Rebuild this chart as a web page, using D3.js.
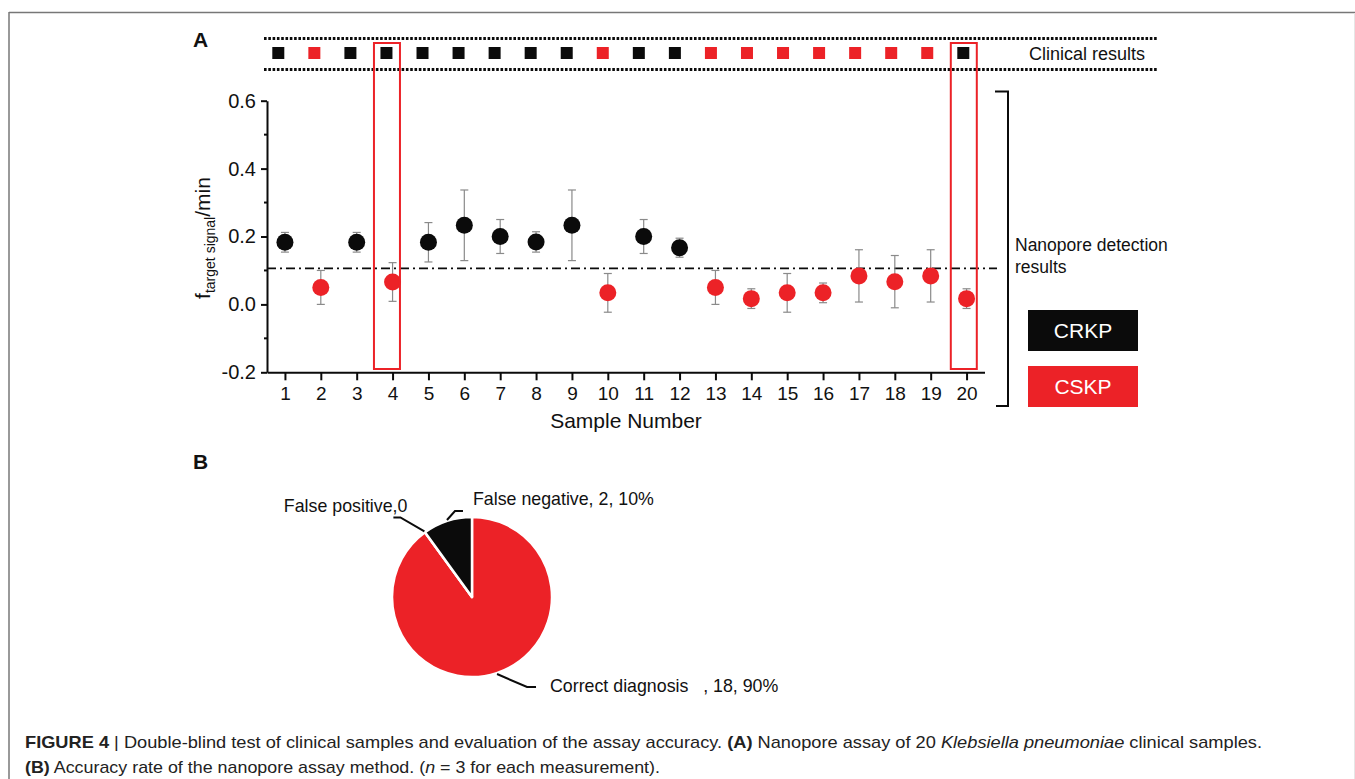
<!DOCTYPE html>
<html><head><meta charset="utf-8">
<script src="https://cdn.jsdelivr.net/npm/d3@7"></script>
<style>
body{margin:0;background:#fff}
svg{display:block}
text{font-family:"Liberation Sans",Arial,Helvetica,sans-serif;fill:#111}
</style>
</head><body>
<svg id="c" width="1355" height="779"></svg>
<script>
// ---------------- DATA ----------------
const samples = [1,2,3,4,5,6,7,8,9,10,11,12,13,14,15,16,17,18,19,20];
const meanValues = [0.183,0.050,0.183,0.066,0.183,0.233,0.200,0.184,0.233,0.034,0.200,0.167,0.050,0.017,0.034,0.034,0.084,0.067,0.084,0.017];
const errValues  = [0.029,0.050,0.029,0.057,0.058,0.104,0.050,0.030,0.104,0.057,0.050,0.028,0.050,0.029,0.057,0.029,0.077,0.077,0.077,0.029];
const detected = ["CRKP","CSKP","CRKP","CSKP","CRKP","CRKP","CRKP","CRKP","CRKP","CSKP","CRKP","CRKP","CSKP","CSKP","CSKP","CSKP","CSKP","CSKP","CSKP","CSKP"];
const clinical = ["CRKP","CSKP","CRKP","CRKP","CRKP","CRKP","CRKP","CRKP","CRKP","CSKP","CRKP","CRKP","CSKP","CSKP","CSKP","CSKP","CSKP","CSKP","CSKP","CRKP"];
const threshold = 0.106;
const yTicks = [-0.2,0.0,0.2,0.4,0.6];
const yMinorTicks = [-0.1,0.1,0.3,0.5];
const legendKeys = ["CRKP","CSKP"];
const pieCategories = ["Correct diagnosis","False positive","False negative"];
const pieValues = [18,0,2];
const pieLabels = ["Correct diagnosis   , 18, 90%","False positive,0","False negative, 2, 10%"];

// ---------------- STYLE / LAYOUT ----------------
const RED = "#ec2227", BLACK = "#0b0b0b", GRAY = "#8a8a8a";
const color = d3.scaleOrdinal().domain(legendKeys).range([BLACK, RED]);
const svg = d3.select("#c");

// frame
svg.append("line").attr("x1",9).attr("x2",1355).attr("y1",12.5).attr("y2",12.5).attr("stroke","#777").attr("stroke-width",1.5);
svg.append("line").attr("x1",9).attr("x2",9).attr("y1",12).attr("y2",779).attr("stroke","#777").attr("stroke-width",1.5);
svg.append("line").attr("x1",1354.5).attr("x2",1354.5).attr("y1",13).attr("y2",779).attr("stroke","#e6e6e6").attr("stroke-width",1);

// panel letters
svg.append("text").attr("x",193).attr("y",47).attr("font-size",21).attr("font-weight","bold").text("A");
svg.append("text").attr("x",193).attr("y",469).attr("font-size",21).attr("font-weight","bold").text("B");

// scales
const x = d3.scaleLinear().domain([0.5,20.5]).range([267,984.5]);
const y = d3.scaleLinear().domain([-0.2,0.6]).range([372.3,100.7]);
const xClin = d3.scaleLinear().domain([1,20]).range([278.3,963.3]);

// clinical results row
const dotted = [38.5, 69.5];
svg.selectAll(".dotline").data(dotted).join("line")
  .attr("x1",264).attr("x2",1158).attr("y1",d=>d).attr("y2",d=>d)
  .attr("stroke",BLACK).attr("stroke-width",3).attr("stroke-dasharray","2.6,1.7");
svg.selectAll(".clin").data(samples).join("rect")
  .attr("x",d=>xClin(d)-6).attr("y",47).attr("width",12).attr("height",12)
  .attr("fill",(d,i)=>color(clinical[i]));
svg.append("text").attr("x",1029).attr("y",60).attr("font-size",18).text("Clinical results");

// axes
const gy = svg.append("g").attr("transform","translate(267,0)")
  .call(d3.axisLeft(y).tickValues(yTicks).tickFormat(d=>d.toFixed(1)).tickSize(6).tickSizeOuter(0).tickPadding(5));
gy.select(".domain").attr("stroke",BLACK).attr("stroke-width",2);
gy.selectAll(".tick line").attr("stroke",BLACK).attr("stroke-width",2);
gy.selectAll(".tick text").attr("font-size",20).attr("font-family","Liberation Sans, Arial, sans-serif").attr("fill","#111");
svg.append("g").selectAll("line").data(yMinorTicks).join("line")
  .attr("x1",264).attr("x2",267).attr("y1",d=>y(d)).attr("y2",d=>y(d)).attr("stroke",BLACK).attr("stroke-width",2);

const gx = svg.append("g").attr("transform",`translate(0,${y(-0.2)})`)
  .call(d3.axisBottom(x).tickValues(samples).tickSize(8).tickSizeOuter(0).tickPadding(6));
gx.select(".domain").attr("stroke",BLACK).attr("stroke-width",2);
gx.selectAll(".tick line").attr("stroke",BLACK).attr("stroke-width",2);
gx.selectAll(".tick text").attr("font-size",19).attr("font-family","Liberation Sans, Arial, sans-serif").attr("fill","#111");

svg.append("text").attr("x",626).attr("y",428).attr("text-anchor","middle").attr("font-size",21).text("Sample Number");
const yl = svg.append("text").attr("transform","translate(210,238) rotate(-90)").attr("text-anchor","middle").attr("font-size",21);
yl.append("tspan").text("f");
yl.append("tspan").attr("font-size",14).attr("dy",5).text("target signal");
yl.append("tspan").attr("dy",-5).text("/min");

// threshold
svg.append("line").attr("x1",267).attr("x2",997).attr("y1",y(threshold)).attr("y2",y(threshold))
  .attr("stroke",BLACK).attr("stroke-width",1.7).attr("stroke-dasharray","9,4,2,4");

// error bars
const eb = svg.append("g").attr("stroke",GRAY).attr("stroke-width",1.2);
samples.forEach((s,i)=>{
  const cx = x(s), y1 = y(meanValues[i]+errValues[i]), y2 = y(meanValues[i]-errValues[i]);
  eb.append("line").attr("x1",cx).attr("x2",cx).attr("y1",y1).attr("y2",y2);
  eb.append("line").attr("x1",cx-4).attr("x2",cx+4).attr("y1",y1).attr("y2",y1);
  eb.append("line").attr("x1",cx-4).attr("x2",cx+4).attr("y1",y2).attr("y2",y2);
});
svg.selectAll(".pt").data(samples).join("circle")
  .attr("cx",d=>x(d)).attr("cy",(d,i)=>y(meanValues[i])).attr("r",8.5)
  .attr("fill",(d,i)=>color(detected[i]));

// mismatch boxes
const mismatched = samples.filter((s,i)=>detected[i]!==clinical[i]);
svg.selectAll(".mm").data(mismatched).join("rect")
  .attr("x",d=>xClin(d)-12.5).attr("y",43).attr("width",26).attr("height",326)
  .attr("fill","none").attr("stroke",RED).attr("stroke-width",2);

// bracket
svg.append("path").attr("d","M995,91.5H1008V406H996").attr("fill","none").attr("stroke",BLACK).attr("stroke-width",2);
svg.append("text").attr("x",1015).attr("y",251).attr("font-size",17.5).text("Nanopore detection");
svg.append("text").attr("x",1015).attr("y",273).attr("font-size",17.5).text("results");

// legend
const lg = svg.selectAll(".lg").data(legendKeys).join("g").attr("transform",(d,i)=>`translate(1028,${310+i*56})`);
lg.append("rect").attr("width",110).attr("height",41).attr("fill",d=>color(d));
lg.append("text").attr("x",55).attr("y",20.5).attr("dy","0.36em").attr("text-anchor","middle")
  .attr("font-size",21).style("fill","#fff").text(d=>d);

// pie
const pc = [472,597], R = 80;
const pie = d3.pie().sort(null).value(d=>d)(pieValues);
const arc = d3.arc().innerRadius(0).outerRadius(R);
const pieColor = d3.scaleOrdinal().domain(pieCategories).range([RED, BLACK, BLACK]);
const pg = svg.append("g").attr("transform",`translate(${pc[0]},${pc[1]})`);
pg.selectAll("path").data(pie).join("path").attr("d",arc)
  .attr("fill",(d,i)=>pieColor(pieCategories[i])).attr("stroke","#fff").attr("stroke-width",2.5).attr("stroke-linejoin","round");

// label layout: elbow offset, horizontal run, text offset/anchor
const leaderLayout = [
  {ex:30, ey:13, hx:9, tx:23, ty:5, anchor:"start"},
  {ex:-24, ey:-14, hx:-7, tx:7, ty:-5.5, anchor:"end"},
  {ex:8, ey:-9, hx:8, tx:18, ty:-6, anchor:"start"}
];
pie.forEach((d,i)=>{
  const a = (d.startAngle+d.endAngle)/2;
  const sx = (R+1)*Math.sin(a), sy = -(R+1)*Math.cos(a);
  const L = leaderLayout[i];
  const exx = sx+L.ex, eyy = sy+L.ey;
  pg.append("path").attr("d",`M${sx},${sy}L${exx},${eyy}h${L.hx}`).attr("fill","none").attr("stroke",BLACK).attr("stroke-width",2);
  pg.append("text").attr("x",exx+L.tx).attr("y",eyy+L.ty).attr("text-anchor",L.anchor)
    .attr("font-size",17.8).style("white-space","pre").text(pieLabels[i]);
});

// caption
const capFont = '"Liberation Sans Narrow","Arial Narrow","Liberation Sans",Arial,sans-serif';
const c1 = svg.append("text").attr("x",25).attr("y",748).attr("font-size",17).attr("font-family",capFont)
  .attr("textLength",1237).attr("lengthAdjust","spacingAndGlyphs").style("fill","#222");
[["FIGURE 4","bold",""],[" | ","normal",""],["Double-blind test of clinical samples and evaluation of the assay accuracy. ","normal",""],["(A)","bold",""],[" Nanopore assay of 20 ","normal",""],["Klebsiella pneumoniae","normal","italic"],[" clinical samples.","normal",""]]
  .forEach(t=>c1.append("tspan").attr("font-weight",t[1]).attr("font-style",t[2]||null).style("white-space","pre").text(t[0]));
const c2 = svg.append("text").attr("x",25).attr("y",773).attr("font-size",17).attr("font-family",capFont)
  .attr("textLength",635).attr("lengthAdjust","spacingAndGlyphs").style("fill","#222");
[["(B)","bold",""],[" Accuracy rate of the nanopore assay method. (","normal",""],["n","normal","italic"],[" = 3 for each measurement).","normal",""]]
  .forEach(t=>c2.append("tspan").attr("font-weight",t[1]).attr("font-style",t[2]||null).style("white-space","pre").text(t[0]));
</script>
</body></html>
